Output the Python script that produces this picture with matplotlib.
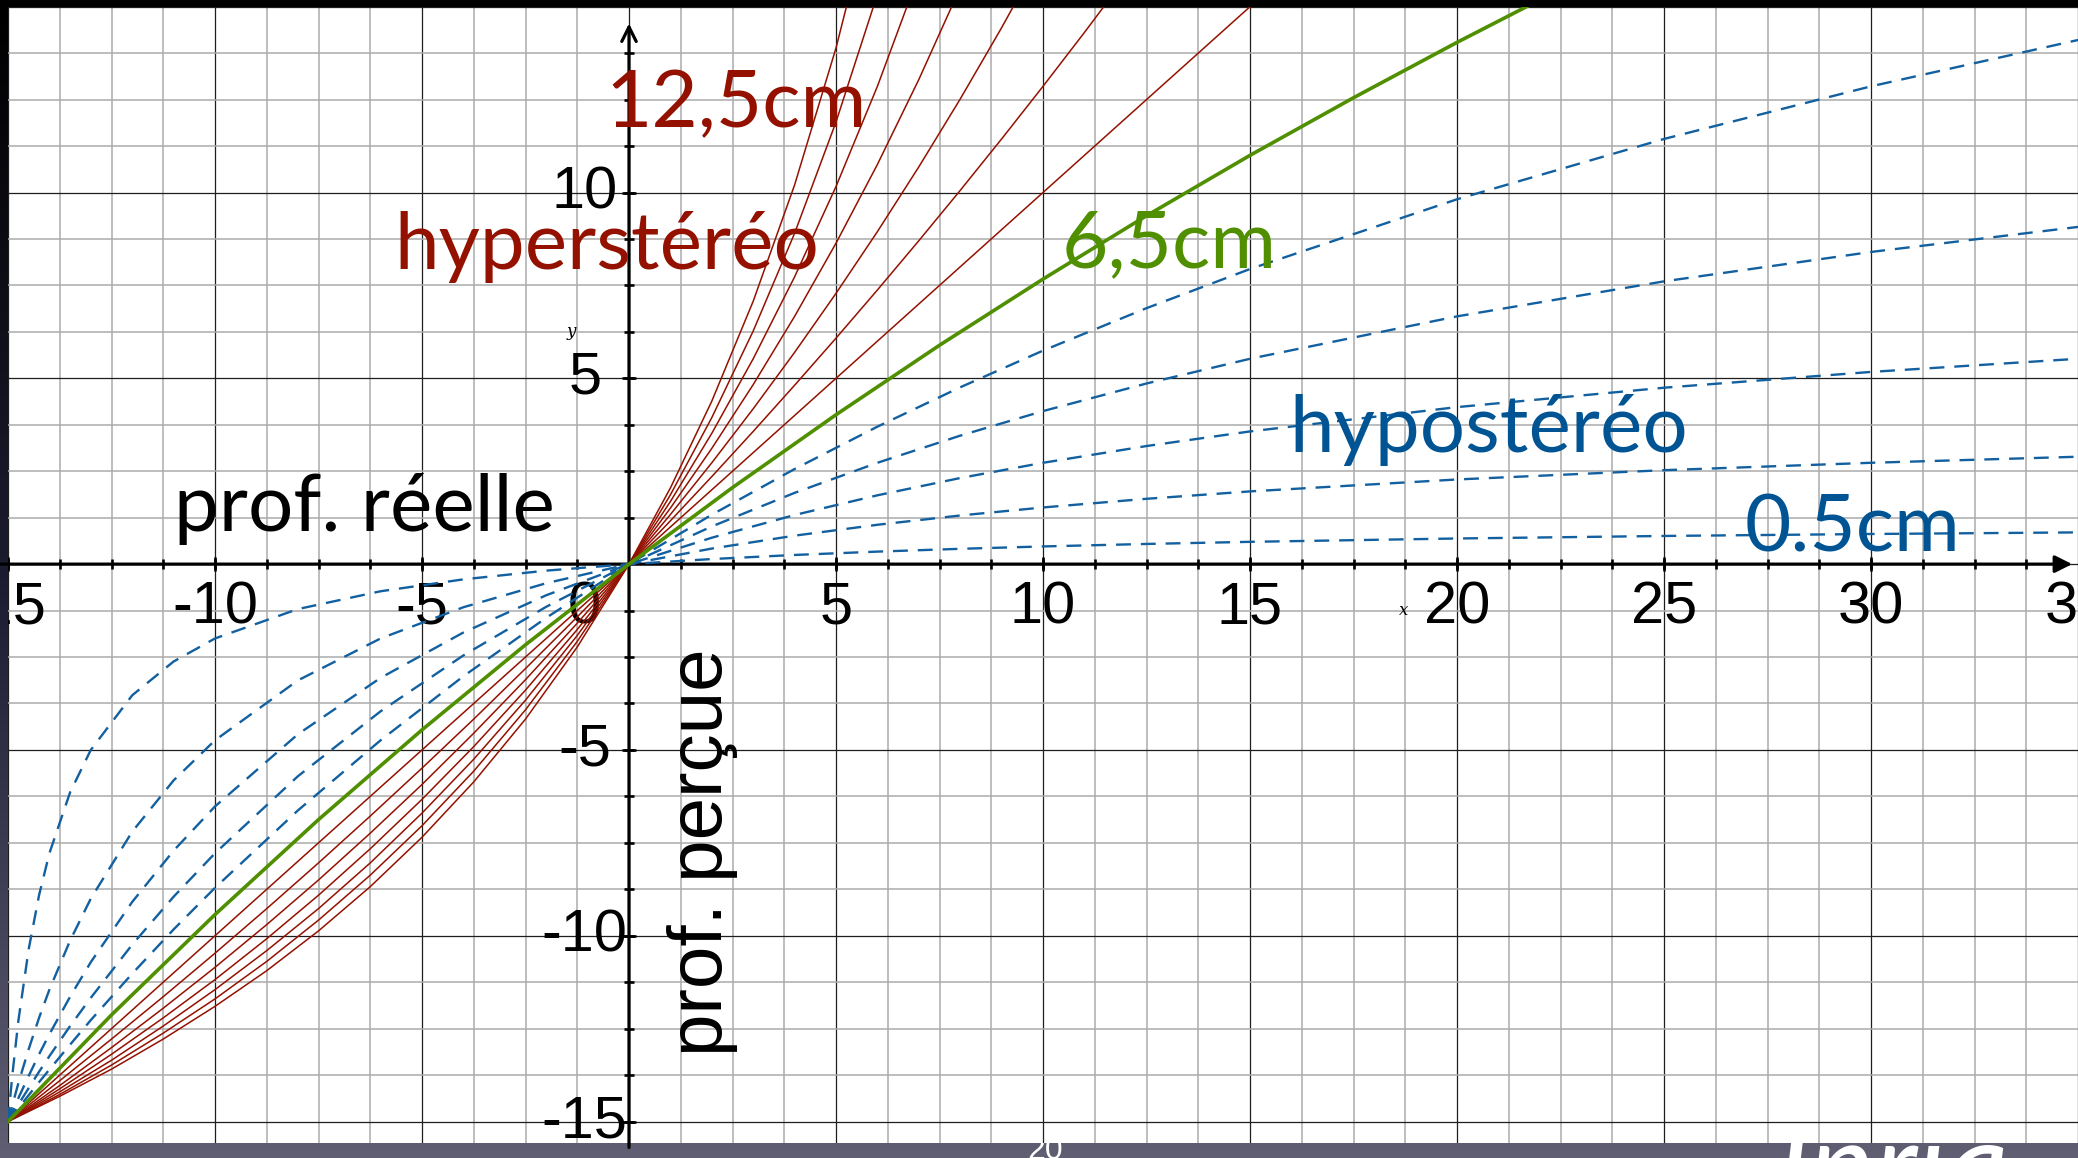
import numpy as np
import matplotlib.pyplot as plt
from matplotlib.colors import LinearSegmentedColormap

# perceived depth (y) against real depth (x), one list per camera baseline
x_blue = [-15, -14.9, -14.75, -14.5, -14.25, -14, -13.5, -13, -12, -11, -10, -8, -6, -4, -2,
          0, 2, 4, 6, 8, 10, 12.5, 15, 20, 25, 30, 35]
hypo_05 = [-15, -13.80, -12.29, -10.36, -8.91, -7.78, -6.14, -5.0, -3.53, -2.62, -2.0, -1.21,
           -0.73, -0.41, -0.175, 0, 0.137, 0.247, 0.337, 0.412, 0.476, 0.543, 0.60, 0.69,
           0.758, 0.811, 0.854]
hypo_15 = [-15, -14.58, -13.97, -13.05, -12.21, -11.45, -10.13, -9.0, -7.2, -5.82, -4.74,
           -3.13, -2.0, -1.16, -0.514, 0, 0.419, 0.766, 1.059, 1.309, 1.525, 1.758, 1.957,
           2.278, 2.528, 2.727, 2.89]
hypo_25 = [-15, -14.74, -14.37, -13.77, -13.19, -12.65, -11.64, -10.71, -9.09, -7.71, -6.52,
           -4.58, -3.06, -1.84, -0.838, 0, 0.711, 1.322, 1.852, 2.317, 2.727, 3.178, 3.571,
           4.225, 4.747, 5.172, 5.526]
hypo_35 = [-15, -14.82, -14.54, -14.10, -13.66, -13.24, -12.43, -11.67, -10.24, -8.95, -7.78,
           -5.71, -3.96, -2.456, -1.148, 0, 1.014, 1.918, 2.727, 3.457, 4.118, 4.861, 5.526,
           6.667, 7.609, 8.4, 9.074]
hypo_45 = [-15, -14.86, -14.64, -14.29, -13.94, -13.60, -12.93, -12.27, -11.02, -9.83, -8.71,
           -6.63, -4.74, -3.017, -1.444, 0, 1.33, 2.559, 3.699, 4.758, 5.745, 6.888, 7.941,
           9.818, 11.441, 12.857, 14.104]

x_green = [-15, -12.5, -10, -7.5, -5, -2.5, 0, 2.5, 5, 7.5, 10, 12.5, 15, 17.5, 20, 22.5]
ortho_65 = [-15, -12.13, -9.43, -6.875, -4.46, -2.17, 0, 2.06, 4.02, 5.89, 7.67, 9.375, 11.0,
            12.55, 14.04, 15.47]

x_red = [-15, -13.75, -12.5, -11.25, -10, -8.75, -7.5, -6.25, -5, -3.75, -2.5, -1.25, 0,
         1, 2, 3, 4, 5, 6, 7, 8, 9, 10, 11, 12, 13, 14, 15]
hyper_65 = [-15, -13.75, -12.5, -11.25, -10, -8.75, -7.5, -6.25, -5, -3.75, -2.5, -1.25, 0,
            1, 2, 3, 4, 5, 6, 7, 8, 9, 10, 11, 12, 13, 14, 15]
hyper_75 = [-15, -13.90, -12.78, -11.64, -10.47, -9.27, -8.04, -6.78, -5.49, -4.17, -2.81,
            -1.42, 0, 1.166, 2.356, 3.571, 4.813, 6.081, 7.377, 8.702, 10.056, 11.441,
            12.857, 14.306, 15.789]
hyper_85 = [-15, -14.03, -13.01, -11.95, -10.85, -9.70, -8.5, -7.24, -5.93, -4.55, -3.11,
            -1.59, 0, 1.335, 2.727, 4.18, 5.698, 7.286, 8.947, 10.689, 12.515, 14.434,
            16.452]
hyper_95 = [-15, -14.12, -13.19, -12.21, -11.18, -10.08, -8.91, -7.66, -6.33, -4.91, -3.39,
            -1.76, 0, 1.508, 3.115, 4.831, 6.667, 8.636, 10.755, 13.039, 15.51]
hyper_105 = [-15, -14.20, -13.35, -12.43, -11.45, -10.40, -9.27, -8.04, -6.70, -5.25, -3.66,
             -1.92, 0, 1.684, 3.52, 5.526, 7.73, 10.161, 12.857, 15.863]
hyper_115 = [-15, -14.27, -13.48, -12.62, -11.70, -10.69, -9.58, -8.37, -7.04, -5.57, -3.92,
             -2.08, 0, 1.865, 3.943, 6.273, 8.903, 11.897, 15.333]
hyper_125 = [-15, -14.32, -13.59, -12.78, -11.90, -10.94, -9.87, -8.68, -7.35, -5.86, -4.17,
             -2.23, 0, 2.049, 4.386, 7.075, 10.204, 13.889, 18.293]

hypo_curves = [hypo_05, hypo_15, hypo_25, hypo_35, hypo_45]
hyper_curves = [hyper_65, hyper_75, hyper_85, hyper_95, hyper_105, hyper_115, hyper_125]

xtick_vals = [-15, -10, -5, 5, 10, 15, 20, 25, 30, 35]
ytick_vals = [-15, -10, -5, 5, 10]

RED = '#941100'
GREEN = '#4F8F00'
BLUE = '#005493'
DASH = '#12609f'
TICKFONT = 'Liberation Sans'
NOTEFONT = 'Lato'

fig = plt.figure(figsize=(20.78, 11.58), dpi=100)

# slide background: dark gradient showing around the graph
bg = fig.add_axes([0, 0, 1, 1], zorder=0)
grad = LinearSegmentedColormap.from_list('slide', ['#000000', '#1c1c30', '#5f5e73'])
bg.imshow(np.linspace(0, 1, 256).reshape(-1, 1), cmap=grad, aspect='auto', extent=[0, 1, 0, 1])
bg.axis('off')

# slide footer (page number, logo), mostly hidden behind the graph
fig.text(1045 / 2078, 7 / 1158, '20', color='white', fontsize=23, family=TICKFONT,
         ha='center', va='center', zorder=0.5)
fig.text(1777 / 2078, -51 / 1158, 'Inria', color='white', fontsize=89, family=NOTEFONT,
         style='italic', ha='left', va='baseline', zorder=0.5)

ax = fig.add_axes([8 / 2078, 15 / 1158, 2070 / 2078, 1136.3 / 1158], zorder=1)
ax.set_facecolor('white')
ax.set_xlim(-15.0, 34.88)
ax.set_ylim(-15.577, 14.644)
for s in ax.spines.values():
    s.set_visible(False)

ax.set_xticks(np.arange(-15, 35.1, 5))
ax.set_xticks(np.arange(-15, 35.1, 1.25), minor=True)
ax.set_yticks(np.arange(-15, 15.1, 5))
ax.set_yticks(np.arange(-15, 15.1, 1.25), minor=True)
ax.tick_params(which='both', length=0, labelbottom=False, labelleft=False)
ax.grid(which='minor', color='#ababab', lw=1.1)
ax.grid(which='major', color='#1e1e1e', lw=0.9)
ax.set_axisbelow(True)

# axes through the origin, with arrows
ax.annotate('', xy=(34.86, 0), xytext=(-15.2, 0),
            arrowprops=dict(arrowstyle='-|>', color='black', lw=2.3, mutation_scale=26,
                            shrinkA=0, shrinkB=0), zorder=2)
ax.annotate('', xy=(0, 14.55), xytext=(0, -15.7),
            arrowprops=dict(arrowstyle='->', color='black', lw=2.3, mutation_scale=26,
                            shrinkA=0, shrinkB=0), zorder=2)
tx = np.arange(-15, 34.9, 1.25)
tx = tx[tx != 0]
ty = np.arange(-15, 14.5, 1.25)
ty = ty[ty != 0]
ax.plot(tx, np.zeros_like(tx), ls='none', marker='|', ms=7, mew=1.9, color='black', zorder=2)
ax.plot(np.zeros_like(ty), ty, ls='none', marker='_', ms=7, mew=1.9, color='black', zorder=2)
tmx = tx[tx % 5 == 0]
tmy = ty[ty % 5 == 0]
ax.plot(tmx, np.zeros_like(tmx), ls='none', marker='|', ms=9.5, mew=1.9, color='black', zorder=2)
ax.plot(np.zeros_like(tmy), tmy, ls='none', marker='_', ms=9.5, mew=1.9, color='black', zorder=2)

# tick labels, geogebra style
for v in xtick_vals:
    xpos = v - 0.12 if v == -15 else v
    ax.text(xpos, -1.18, str(v), ha='center', va='center', fontsize=42.8, family=TICKFONT,
            color='black', zorder=1.5, clip_on=True)
for v in ytick_vals:
    ax.text(-1.07, v, str(v), ha='center', va='center', fontsize=42.8, family=TICKFONT,
            color='black', zorder=1.5, clip_on=True)
ax.text(-1.07, -1.18, '0', ha='center', va='center', fontsize=42.8, family=TICKFONT,
        color='black', zorder=1.5)
ax.text(18.72, -1.25, 'x', ha='center', va='center', fontsize=12, family='DejaVu Serif',
        style='italic', zorder=1.5)
ax.text(-1.4, 6.25, 'y', ha='center', va='center', fontsize=12, family='DejaVu Serif',
        style='italic', zorder=1.5)

# curves
for yv in hypo_curves:
    ax.plot(x_blue, yv, color=DASH, lw=1.7, ls=(0, (6.3, 4.2)), zorder=3)
for yv in hyper_curves:
    ax.plot(x_red[:len(yv)], yv, color=RED, lw=1.1, zorder=3.2)
ax.plot(x_green, ortho_65, color=GREEN, lw=2.6, zorder=3.4)

# annotations
ax.text(-0.57, 11.77, '12,5cm', color=RED, fontsize=57.6, family=NOTEFONT, ha='left',
        va='baseline', zorder=4)
ax.text(-5.67, 7.95, 'hyperstéréo', color=RED, fontsize=57.6, family=NOTEFONT, ha='left',
        va='baseline', zorder=4)
ax.text(10.45, 7.99, '6,5cm', color=GREEN, fontsize=57.6, family=NOTEFONT, ha='left',
        va='baseline', zorder=4)
ax.text(15.94, 3.01, 'hypostéréo', color=BLUE, fontsize=57.6, family=NOTEFONT, ha='left',
        va='baseline', zorder=4)
ax.text(26.95, 0.35, '0.5cm', color=BLUE, fontsize=57.6, family=NOTEFONT, ha='left',
        va='baseline', zorder=4)
ax.text(-11.0, 0.9, 'prof. réelle', color='black', fontsize=57.6, family=NOTEFONT, ha='left',
        va='baseline', zorder=4)
ax.text(1.77, -7.76, 'prof. perçue', color='black', fontsize=55, family=TICKFONT, ha='center',
        va='center', rotation=90, zorder=4)

fig.savefig('out.png', dpi=100)
